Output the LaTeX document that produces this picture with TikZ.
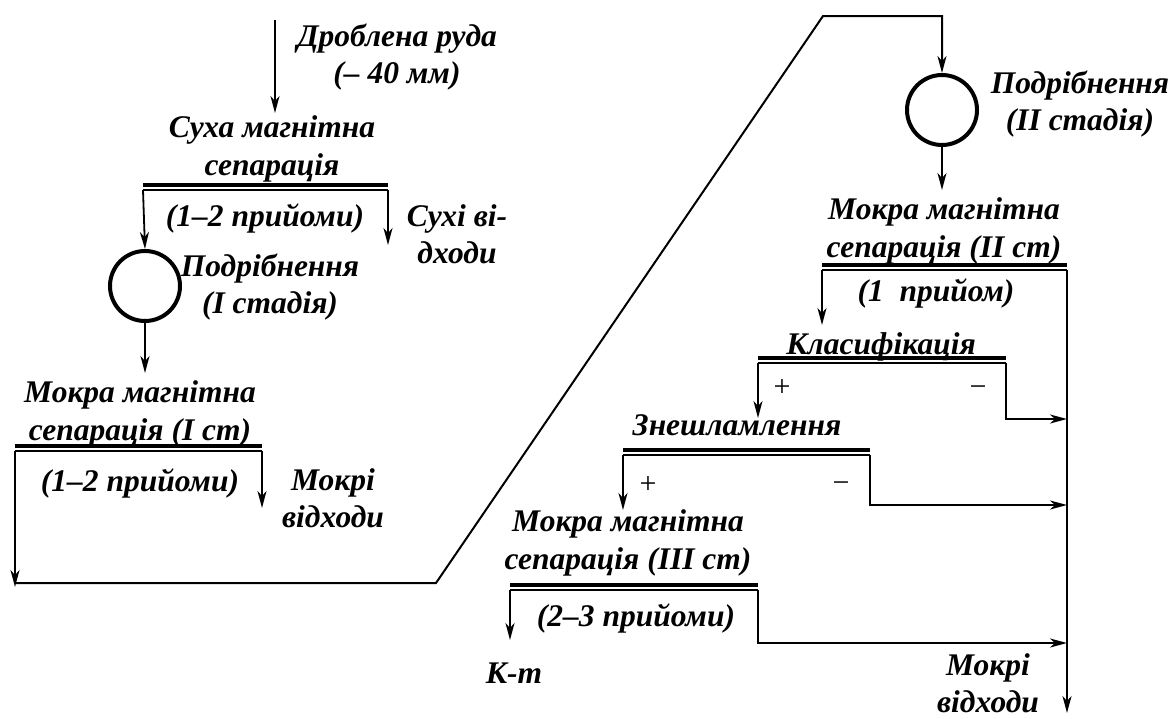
\documentclass[tikz,border=0pt]{standalone}
\usepackage{fontspec}
\setmainfont{Liberation Serif}
\usepackage{tikz}
\usetikzlibrary{arrows.meta, positioning, calc}

\tikzset{
  lbl/.style={font=\bfseries\itshape\fontsize{31.5}{37.5}\selectfont, align=center, inner sep=0pt},
  sign/.style={font=\fontsize{30}{30}\selectfont, inner sep=0pt},
  flow/.style={-{Stealth[length=17pt, width=9pt, inset=5pt]}, line width=1.8pt},
  barthick/.style={line width=3.5pt},
  barthin/.style={line width=2.2pt},
  mill/.style={draw, circle, line width=4pt, minimum size=70pt, inner sep=0pt},
}

% separator bar: name, x from, x to, y
\newcommand{\sepbar}[4]{%
  \draw[barthick] (#2,#4) -- (#3,#4);
  \draw[barthin] (#2,#4+5) -- (#3,#4+5);
  \coordinate (#1-l) at (#2,#4+5);
  \coordinate (#1-r) at (#3,#4+5);
}

\begin{document}
\begin{tikzpicture}[x=1pt, y=-1pt]
  \useasboundingbox (0,0) rectangle (1174,718);

  % first stage
  \node[lbl] (ore) at (397,57) {Дроблена руда\\(– 40 мм)};
  \node[lbl] (dms) at (272,149) {Суха магнітна\\сепарація};
  \sepbar{dmsbar}{143}{388}{185}
  \node[lbl] (dmsrep) at (265,218) {(1–2 прийоми)};
  \node[lbl] (drytail) at (457,234) {Сухі ві-\\дходи};
  \node[mill] (mill1) at (145,286) {};
  \node[lbl] (mill1lbl) at (270,287) {Подрібнення\\(I стадія)};
  \node[lbl] (wms1) at (140,414) {Мокра магнітна\\сепарація (I ст)};
  \sepbar{wms1bar}{15}{262}{446}
  \node[lbl] (wms1rep) at (140,483) {(1–2 прийоми)};
  \node[lbl] (wettail1) at (333,498) {Мокрі\\відходи};

  \coordinate (feed) at (275,20);
  \coordinate (feedend) at (275,113);
  \coordinate (drytailend) at (388,245);
  \coordinate (mill1end) at (145,373);
  \coordinate (wettail1end) at (262,508);
  \coordinate (ret0) at (15,587);
  \coordinate (ret1) at (15,583);
  \coordinate (ret2) at (436,583);
  \coordinate (ret3) at (823,16);
  \coordinate (ret4) at (942,16);

  \draw[flow] (feed) -- (feedend);
  \draw[flow] (dmsbar-l) -- (mill1.north);
  \draw[flow] (dmsbar-r) -- (drytailend);
  \draw[flow] (mill1.south) -- (mill1end);
  \draw[flow] (wms1bar-l) -- (ret0);
  \draw[flow] (wms1bar-r) -- (wettail1end);

  % second stage
  \node[mill] (mill2) at (942,110) {};
  \node[lbl] (mill2lbl) at (1080,104) {Подрібнення\\(II стадія)};
  \node[lbl] (wms2) at (944,231) {Мокра магнітна\\сепарація (II ст)};
  \sepbar{wms2bar}{822}{1067}{265}
  \node[lbl] (wms2rep) at (936,293) {(1~ прийом)};
  \node[lbl] (cls) at (881,347) {Класифікація};
  \sepbar{clsbar}{758}{1006}{358}
  \node[sign] (clsplus) at (782,388) {+};
  \node[sign] (clsminus) at (978,391) {−};
  \node[lbl] (dsl) at (737,425) {Знешламлення};
  \sepbar{dslbar}{623}{870}{450}
  \node[sign] (dslplus) at (648,485) {+};
  \node[sign] (dslminus) at (841,487) {−};
  \node[lbl] (wms3) at (628,543) {Мокра магнітна\\сепарація (III ст)};
  \sepbar{wms3bar}{510}{758}{585}
  \node[lbl] (wms3rep) at (636,618) {(2–3 прийоми)};
  \node[lbl] (conc) at (514,673) {К-т};
  \node[lbl] (wettail2) at (988,683) {Мокрі\\відходи};

  \coordinate (mill2end) at (942,190);
  \coordinate (wms2end) at (822,325);
  \coordinate (tailend) at (1067,713);
  \coordinate (clsend) at (758,418);
  \coordinate (clsbend) at (1006,419);
  \coordinate (dslend) at (623,510);
  \coordinate (dslbend) at (870,505);
  \coordinate (concend) at (510,640);
  \coordinate (wms3bend) at (758,643);

  \draw[flow, line width=2pt] (ret1) -- (ret2) -- (ret3) -- (ret4) -- (mill2.north);
  \draw[flow] (mill2.south) -- (mill2end);
  \draw[flow] (wms2bar-l) -- (wms2end);
  \draw[flow] (wms2bar-r) -- (tailend);
  \draw[flow] (clsbar-l) -- (clsend);
  \draw[flow] (clsbar-r) -- (clsbend) -- (clsbend -| wms2bar-r);
  \draw[flow] (dslbar-l) -- (dslend);
  \draw[flow] (dslbar-r) -- (dslbend) -- (dslbend -| wms2bar-r);
  \draw[flow] (wms3bar-l) -- (concend);
  \draw[flow] (wms3bar-r) -- (wms3bend) -- (wms3bend -| wms2bar-r);
\end{tikzpicture}
\end{document}
